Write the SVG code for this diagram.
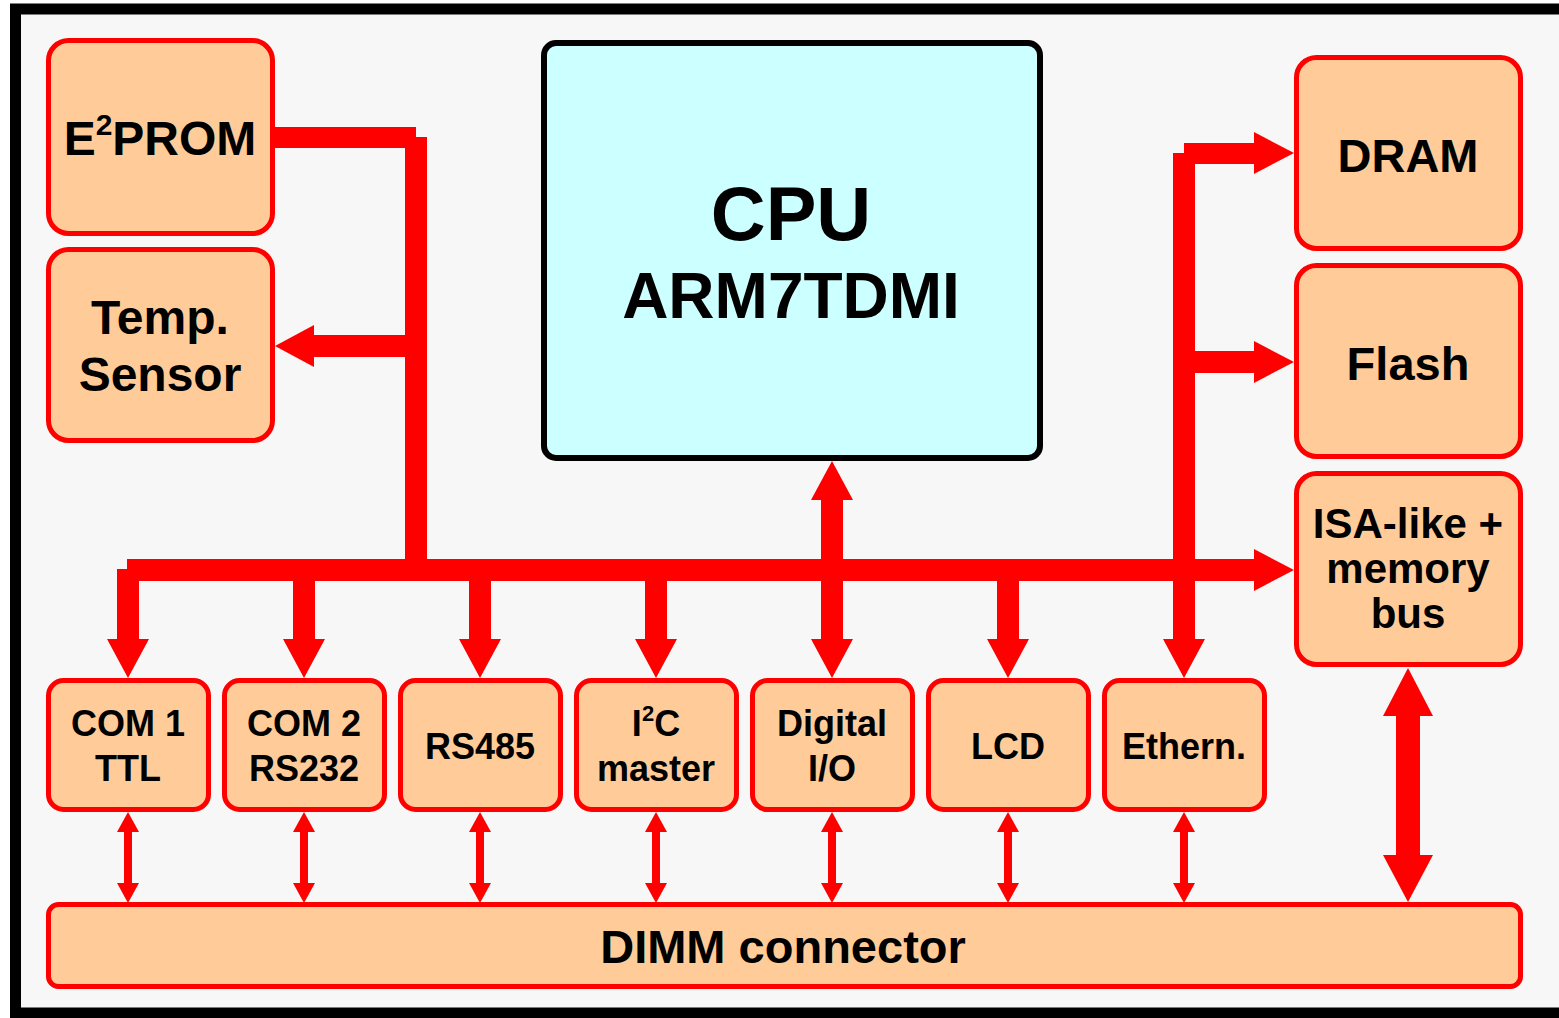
<svg xmlns="http://www.w3.org/2000/svg" width="1559" height="1018" viewBox="0 0 1559 1018">
<style>
.box{fill:#ffcc99;stroke:#ff0000;stroke-width:5}
.cpu{fill:#ccffff;stroke:#000000;stroke-width:6}
.t{font-family:"Liberation Sans",Arial,sans-serif;font-weight:bold;fill:#000000;text-anchor:middle}
.r{fill:#ff0000;stroke:none}
</style>
<defs>
<g id="dn"><rect x="-11" y="581" width="22" height="59"/><polygon points="-21,639 21,639 0,678"/></g>
<g id="sm"><rect x="-4" y="830" width="8" height="55"/><polygon points="-11,832 11,832 0,812"/><polygon points="-11,883 11,883 0,903"/></g>
<polygon id="rh" points="1254,-21 1254,21 1294,0"/>
</defs>
<rect x="0" y="0" width="1559" height="1018" fill="#ffffff"/>
<rect x="15.5" y="9" width="1600" height="1004" fill="#f7f7f7" stroke="#000000" stroke-width="11"/>

<g id="connectors" class="r">
  <rect x="275" y="127" width="141" height="21"/>
  <rect x="405" y="137" width="22" height="444"/>
  <rect x="312" y="335" width="95" height="22"/>
  <polygon points="314,325 314,367 275,346"/>
  <rect x="127" y="559" width="1130" height="22"/>
  <use href="#rh" transform="translate(0,570)"/>
  <rect x="117" y="569" width="22" height="71"/>
  <polygon points="107,639 149,639 128,678"/>
  <use href="#dn" transform="translate(304,0)"/>
  <use href="#dn" transform="translate(480,0)"/>
  <use href="#dn" transform="translate(656,0)"/>
  <use href="#dn" transform="translate(1008,0)"/>
  <rect x="821" y="498" width="22" height="143"/>
  <polygon points="811,500 853,500 832,461"/>
  <polygon points="811,639 853,639 832,678"/>
  <rect x="1184" y="143" width="72" height="21"/>
  <rect x="1173" y="153" width="22" height="487"/>
  <use href="#rh" transform="translate(0,153)"/>
  <rect x="1195" y="351" width="61" height="22"/>
  <use href="#rh" transform="translate(0,362)"/>
  <polygon points="1163,639 1205,639 1184,678"/>
  <use href="#sm" transform="translate(128,0)"/>
  <use href="#sm" transform="translate(304,0)"/>
  <use href="#sm" transform="translate(480,0)"/>
  <use href="#sm" transform="translate(656,0)"/>
  <use href="#sm" transform="translate(832,0)"/>
  <use href="#sm" transform="translate(1008,0)"/>
  <use href="#sm" transform="translate(1184,0)"/>
  <rect x="1396" y="714" width="24" height="143"/>
  <polygon points="1383,716 1433,716 1408,668"/>
  <polygon points="1383,855 1433,855 1408,902"/>
</g>

<g id="e2prom"><rect class="box" x="48.5" y="40.5" width="224" height="193" rx="20"/>
<text class="t" x="160" y="155" font-size="48">E<tspan font-size="30" dy="-20">2</tspan><tspan dy="20">PROM</tspan></text></g>
<g id="temp"><rect class="box" x="48.5" y="249.5" width="224" height="191" rx="20"/>
<text class="t" x="160" y="334" font-size="48">Temp.</text><text class="t" x="160" y="391" font-size="48">Sensor</text></g>
<g id="cpu"><rect class="cpu" x="544" y="43" width="496" height="415" rx="12"/>
<text class="t" x="791" y="240" font-size="76">CPU</text><text class="t" x="791" y="318" font-size="64">ARM7TDMI</text></g>
<g id="dram"><rect class="box" x="1296.5" y="57.5" width="224" height="191" rx="20"/>
<text class="t" x="1408" y="172" font-size="47">DRAM</text></g>
<g id="flash"><rect class="box" x="1296.5" y="265.5" width="224" height="191" rx="20"/>
<text class="t" x="1408" y="380" font-size="47">Flash</text></g>
<g id="isa"><rect class="box" x="1296.5" y="473.5" width="224" height="191" rx="20"/>
<text class="t" x="1408" y="538" font-size="42">ISA-like +</text><text class="t" x="1408" y="583" font-size="42">memory</text><text class="t" x="1408" y="628" font-size="42">bus</text></g>

<g id="com1"><rect class="box" x="48.5" y="680.5" width="160" height="129" rx="15"/>
<text class="t" x="128" y="736" font-size="36">COM 1</text><text class="t" x="128" y="781" font-size="36">TTL</text></g>
<g id="com2"><rect class="box" x="224.5" y="680.5" width="160" height="129" rx="15"/>
<text class="t" x="304" y="736" font-size="36">COM 2</text><text class="t" x="304" y="781" font-size="36">RS232</text></g>
<g id="rs485"><rect class="box" x="400.5" y="680.5" width="160" height="129" rx="15"/>
<text class="t" x="480" y="759" font-size="36">RS485</text></g>
<g id="i2c"><rect class="box" x="576.5" y="680.5" width="160" height="129" rx="15"/>
<text class="t" x="656" y="736" font-size="36">I<tspan font-size="22" dy="-15">2</tspan><tspan dy="15">C</tspan></text><text class="t" x="656" y="781" font-size="36">master</text></g>
<g id="dio"><rect class="box" x="752.5" y="680.5" width="160" height="129" rx="15"/>
<text class="t" x="832" y="736" font-size="36">Digital</text><text class="t" x="832" y="781" font-size="36">I/O</text></g>
<g id="lcd"><rect class="box" x="928.5" y="680.5" width="160" height="129" rx="15"/>
<text class="t" x="1008" y="759" font-size="36">LCD</text></g>
<g id="ethern"><rect class="box" x="1104.5" y="680.5" width="160" height="129" rx="15"/>
<text class="t" x="1184" y="759" font-size="36">Ethern.</text></g>
<g id="dimm"><rect class="box" x="48.5" y="904.5" width="1472" height="82" rx="10"/>
<text class="t" x="783" y="963" font-size="47">DIMM connector</text></g>
</svg>
